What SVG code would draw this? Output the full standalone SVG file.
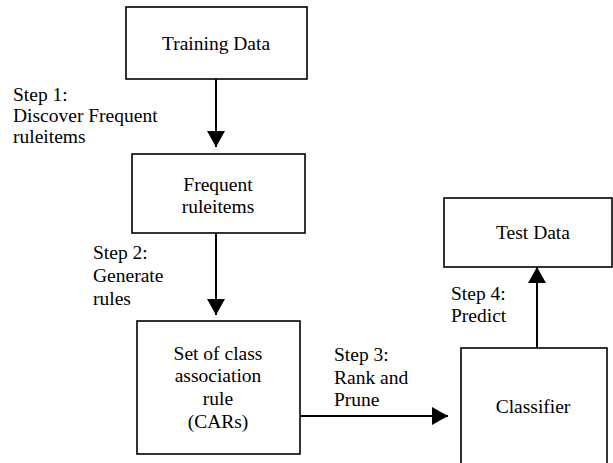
<svg xmlns="http://www.w3.org/2000/svg" width="613" height="463" viewBox="0 0 613 463">
<style>
.box{fill:#fff;stroke:#000;stroke-width:1.6}
.line{stroke:#000;stroke-width:2;fill:none}
</style>
<defs>
<marker id="ah" markerUnits="userSpaceOnUse" markerWidth="18" markerHeight="18" viewBox="0 0 16 18" refX="16" refY="9" orient="auto">
<path d="M0,0 L16,9 L0,18 Z" fill="#000"/>
</marker>
</defs>
<rect width="613" height="463" fill="#fff"/>
<g id="connectors">
<line class="line" x1="216" y1="79" x2="216" y2="147" marker-end="url(#ah)"/>
<line class="line" x1="216" y1="233" x2="216" y2="315" marker-end="url(#ah)"/>
<line class="line" x1="300" y1="416" x2="448" y2="416" marker-end="url(#ah)"/>
<line class="line" x1="537" y1="348" x2="537" y2="267" marker-end="url(#ah)"/>
</g>
<g font-family="'Liberation Serif', 'Times New Roman', serif" font-size="19.5" fill="#000">
<g id="training" text-anchor="middle">
<rect class="box" x="126" y="7" width="181" height="72"/>
<text x="216" y="50">Training Data</text>
</g>
<g id="frequent" text-anchor="middle">
<rect class="box" x="132" y="154" width="173" height="79"/>
<text x="218" y="191">Frequent</text>
<text x="218" y="213">ruleitems</text>
</g>
<g id="cars" text-anchor="middle">
<rect class="box" x="137" y="321" width="163" height="133"/>
<text x="218" y="360">Set of class</text>
<text x="218" y="382">association</text>
<text x="218" y="405">rule</text>
<text x="218" y="428">(CARs)</text>
</g>
<g id="classifier" text-anchor="middle">
<rect class="box" x="461" y="348" width="146" height="130"/>
<text x="533" y="413">Classifier</text>
</g>
<g id="testdata" text-anchor="middle">
<rect class="box" x="444" y="198" width="168" height="69"/>
<text x="533" y="239">Test Data</text>
</g>
<g id="labels">
<text x="13" y="101">Step 1:</text>
<text x="13" y="122">Discover Frequent</text>
<text x="13" y="143">ruleitems</text>
<text x="93" y="259">Step 2:</text>
<text x="93" y="282">Generate</text>
<text x="93" y="305">rules</text>
<text x="334" y="361">Step 3:</text>
<text x="334" y="384">Rank and</text>
<text x="334" y="406">Prune</text>
<text x="451" y="300">Step 4:</text>
<text x="451" y="322">Predict</text>
</g>
</g>
</svg>
